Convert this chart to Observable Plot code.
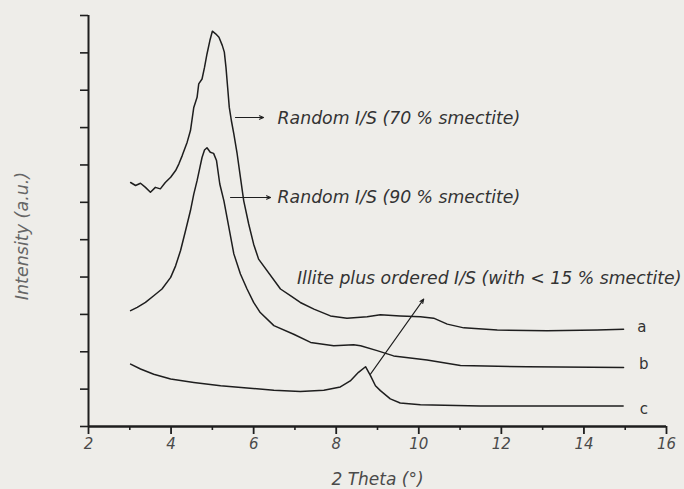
<!DOCTYPE html>
<html>
<head>
<meta charset="utf-8">
<script src="https://cdn.jsdelivr.net/npm/d3@7"></script>
<script src="https://cdn.jsdelivr.net/npm/@observablehq/plot@0.6"></script>
<style>
  html, body { margin: 0; padding: 0; background: #eeede9; }
  #chart { width: 684px; height: 489px; }
</style>
</head>
<body>
<div id="chart"></div>
<script>
// ---- Data ----
// Curve a: Random I/S (70 % smectite)
const thetaA = [3.02, 3.14, 3.26, 3.38, 3.50, 3.62, 3.74, 3.86, 3.99, 4.11, 4.19, 4.27, 4.39, 4.47, 4.55, 4.63, 4.67, 4.75, 4.81, 4.87, 4.94, 5.00, 5.08, 5.16, 5.24, 5.29, 5.33, 5.37, 5.41, 5.46, 5.52, 5.60, 5.68, 5.76, 5.88, 6.00, 6.12, 6.65, 6.89, 7.13, 7.46, 7.86, 8.26, 8.75, 9.07, 9.55, 10.04, 10.36, 10.69, 11.09, 11.90, 13.11, 14.32, 14.96];
const intensityA = [6.53, 6.45, 6.51, 6.40, 6.27, 6.40, 6.36, 6.53, 6.67, 6.85, 7.03, 7.25, 7.61, 7.92, 8.54, 8.81, 9.17, 9.30, 9.61, 9.97, 10.33, 10.58, 10.51, 10.42, 10.20, 10.02, 9.61, 9.08, 8.54, 8.19, 7.83, 7.30, 6.67, 6.04, 5.42, 4.88, 4.48, 3.68, 3.50, 3.32, 3.14, 2.96, 2.90, 2.94, 2.99, 2.96, 2.94, 2.90, 2.74, 2.64, 2.58, 2.56, 2.58, 2.60];

// Curve b: Random I/S (90 % smectite)
const thetaB = [3.02, 3.18, 3.38, 3.58, 3.78, 3.99, 4.11, 4.23, 4.35, 4.47, 4.55, 4.63, 4.70, 4.75, 4.81, 4.87, 4.95, 5.03, 5.10, 5.18, 5.28, 5.40, 5.52, 5.68, 5.84, 6.00, 6.16, 6.49, 6.97, 7.38, 7.94, 8.42, 8.59, 8.99, 9.39, 10.20, 11.01, 12.62, 14.96];
const intensityB = [3.10, 3.19, 3.32, 3.50, 3.68, 3.99, 4.30, 4.71, 5.24, 5.78, 6.22, 6.58, 6.94, 7.20, 7.40, 7.46, 7.34, 7.31, 7.12, 6.49, 6.04, 5.33, 4.62, 4.08, 3.68, 3.32, 3.05, 2.70, 2.47, 2.25, 2.16, 2.19, 2.16, 2.03, 1.89, 1.78, 1.63, 1.60, 1.58];

// Curve c: Illite plus ordered I/S
const thetaC = [3.02, 3.26, 3.58, 3.99, 4.55, 5.20, 5.84, 6.49, 7.13, 7.70, 8.10, 8.34, 8.54, 8.71, 8.83, 8.95, 9.07, 9.31, 9.55, 10.04, 11.49, 13.43, 14.95];
const intensityC = [1.67, 1.54, 1.40, 1.27, 1.18, 1.09, 1.03, 0.97, 0.94, 0.97, 1.06, 1.22, 1.45, 1.60, 1.36, 1.09, 0.96, 0.74, 0.63, 0.58, 0.55, 0.55, 0.55];

// Axis ticks
const majorTicksX = [2, 4, 6, 8, 10, 12, 14, 16];
const minorTicksX = [3, 5, 7, 9, 11, 13, 15];
const ticksY = [0, 1, 2, 3, 4, 5, 6, 7, 8, 9, 10, 11];

// Annotations
const noteText = ["Random I/S (70 % smectite)", "Random I/S (90 % smectite)", "Illite plus ordered I/S (with < 15 % smectite)"];
const noteX = [6.58, 6.58, 7.05];
const noteY = [8.24, 6.13, 3.96];
const arrowX1 = [5.56, 5.44, 8.83];
const arrowY1 = [8.27, 6.13, 1.40];
const arrowX2 = [6.24, 6.41, 10.12];
const arrowY2 = [8.27, 6.13, 3.41];

const curveNames = ["a", "b", "c"];
const curveLabelX = [15.4, 15.45, 15.45];
const curveLabelY = [2.65, 1.67, 0.47];

const xLabel = "2 Theta (°)";
const yLabel = "Intensity (a.u.)";

// ---- Build tables ----
const lineA = thetaA.map((x, i) => ({x, y: intensityA[i]}));
const lineB = thetaB.map((x, i) => ({x, y: intensityB[i]}));
const lineC = thetaC.map((x, i) => ({x, y: intensityC[i]}));
const notes = noteText.map((t, i) => ({t, x: noteX[i], y: noteY[i]}));
const arrows = arrowX1.map((x1, i) => ({x1, y1: arrowY1[i], x2: arrowX2[i], y2: arrowY2[i]}));
const curveLabels = curveNames.map((t, i) => ({t, x: curveLabelX[i], y: curveLabelY[i]}));

const FONT = "DejaVu Sans";
const INK = "#1e1e1e";

const chart = Plot.plot({
  width: 684,
  height: 489,
  marginLeft: 88,
  marginRight: 18,
  marginTop: 15,
  marginBottom: 63,
  style: {background: "#eeede9", fontFamily: FONT, overflow: "visible"},
  x: {domain: [2, 16], axis: null},
  y: {domain: [0, 11], axis: null},
  marks: [
    // minor x ticks
    Plot.axisX(minorTicksX, {anchor: "bottom", tickSize: 4, tickFormat: () => "", stroke: INK, strokeWidth: 1.6, label: null}),
    // major x ticks + labels
    Plot.axisX(majorTicksX, {anchor: "bottom", tickSize: 8, tickPadding: 4, fontSize: 15, fontStyle: "italic", fill: "#4a4a4a", stroke: INK, strokeWidth: 1.8, label: null}),
    // y ticks, no labels
    Plot.axisY(ticksY, {anchor: "left", tickSize: 8, tickFormat: () => "", stroke: INK, strokeWidth: 1.6, label: null}),
    // axis lines
    Plot.ruleY([0], {x1: 2, x2: 16, stroke: INK, strokeWidth: 2.4}),
    Plot.ruleX([2], {y1: 0, y2: 11, stroke: INK, strokeWidth: 2}),
    // curves
    Plot.line(lineA, {x: "x", y: "y", stroke: INK, strokeWidth: 1.5}),
    Plot.line(lineB, {x: "x", y: "y", stroke: INK, strokeWidth: 1.5}),
    Plot.line(lineC, {x: "x", y: "y", stroke: INK, strokeWidth: 1.5}),
    // annotation arrows
    Plot.arrow(arrows, {x1: "x1", y1: "y1", x2: "x2", y2: "y2", stroke: INK, strokeWidth: 1.1, headLength: 6, headAngle: 45}),
    // annotation text
    Plot.text(notes, {x: "x", y: "y", text: "t", textAnchor: "start", fontSize: 17.3, fontStyle: "italic", fill: "#333"}),
    // curve labels
    Plot.text(curveLabels, {x: "x", y: "y", text: "t", textAnchor: "middle", fontSize: 15, fill: "#333"}),
    // axis titles
    Plot.text([xLabel], {frameAnchor: "bottom", textAnchor: "middle", dy: 58, fontSize: 17, fontStyle: "italic", fill: "#4a4a4a"}),
    Plot.text([yLabel], {frameAnchor: "left", textAnchor: "middle", dx: -66, dy: 15, rotate: -90, fontSize: 17.5, fontStyle: "italic", fill: "#666"})
  ]
});
document.getElementById("chart").appendChild(chart);
</script>
</body>
</html>
